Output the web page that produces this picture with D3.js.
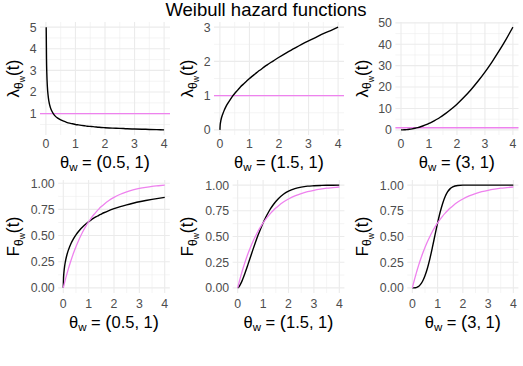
<!DOCTYPE html>
<html>
<head>
<meta charset="utf-8">
<script src="https://cdn.jsdelivr.net/npm/d3@7"></script>
<style>
  body { margin: 0; background: #fff; }
  text { font-family: "Liberation Sans", Arial, sans-serif; }
</style>
</head>
<body>
<script>
// time grid shared by every curve
var tGrid = [0, 0.01, 0.02, 0.03, 0.05, 0.075, 0.1, 0.15, 0.2, 0.25, 0.3, 0.4, 0.5, 0.6, 0.7, 0.8, 0.9,
             1.0, 1.1, 1.2, 1.3, 1.4, 1.5, 1.6, 1.8, 2.0, 2.25, 2.5, 2.75, 3.0, 3.25, 3.5, 3.75, 4.0]

// hazard, shapes 0.5 / 1.5 / 3 (scale 1)
var hazard05 = [null, 5.00, 3.54, 2.89, 2.24, 1.83, 1.58, 1.29, 1.12, 1.00, 0.91, 0.79, 0.71, 0.65, 0.60, 0.56, 0.53,
                0.50, 0.48, 0.46, 0.44, 0.42, 0.41, 0.40, 0.37, 0.35, 0.33, 0.32, 0.30, 0.29, 0.28, 0.27, 0.26, 0.25]
var hazard15 = [0, 0.15, 0.21, 0.26, 0.34, 0.41, 0.47, 0.58, 0.67, 0.75, 0.82, 0.95, 1.06, 1.16, 1.26, 1.34, 1.42,
                1.50, 1.57, 1.64, 1.71, 1.77, 1.84, 1.90, 2.01, 2.12, 2.25, 2.37, 2.49, 2.60, 2.70, 2.81, 2.90, 3.00]
var hazard3 = [0, 0.0003, 0.0012, 0.0027, 0.0075, 0.017, 0.03, 0.0675, 0.12, 0.19, 0.27, 0.48, 0.75, 1.08, 1.47, 1.92, 2.43,
               3.00, 3.63, 4.32, 5.07, 5.88, 6.75, 7.68, 9.72, 12.0, 15.19, 18.75, 22.69, 27.0, 31.69, 36.75, 42.19, 48.0]
var hazardExp = [1]

// distribution functions
var cdf05 = [0, 0.095, 0.132, 0.159, 0.200, 0.240, 0.271, 0.321, 0.361, 0.393, 0.422, 0.469, 0.507, 0.539, 0.567, 0.591, 0.613,
             0.632, 0.650, 0.666, 0.680, 0.694, 0.706, 0.718, 0.739, 0.757, 0.777, 0.794, 0.809, 0.823, 0.835, 0.846, 0.856, 0.865]
var cdf15 = [0, 0.001, 0.003, 0.005, 0.011, 0.020, 0.031, 0.056, 0.086, 0.118, 0.152, 0.224, 0.298, 0.372, 0.443, 0.511, 0.574,
             0.632, 0.685, 0.731, 0.773, 0.809, 0.841, 0.868, 0.911, 0.941, 0.966, 0.981, 0.990, 0.994, 0.997, 0.999, 0.999, 1.000]
var cdf3 = [0, 0, 0, 0, 0, 0, 0.001, 0.003, 0.008, 0.015, 0.027, 0.062, 0.118, 0.194, 0.290, 0.401, 0.518,
            0.632, 0.736, 0.822, 0.889, 0.936, 0.966, 0.983, 0.997, 1.000, 1.000, 1.000, 1.000, 1.000, 1.000, 1.000, 1.000, 1.000]
var cdfExp = [0, 0.010, 0.020, 0.030, 0.049, 0.072, 0.095, 0.139, 0.181, 0.221, 0.259, 0.330, 0.393, 0.451, 0.503, 0.551, 0.593,
              0.632, 0.667, 0.699, 0.727, 0.753, 0.777, 0.798, 0.835, 0.865, 0.895, 0.918, 0.936, 0.950, 0.961, 0.970, 0.976, 0.982]

var shapeLabels = ["0.5, 1", "1.5, 1", "3, 1"]
var xTicks = [0, 1, 2, 3, 4]
var hazardTicks = [[1, 2, 3, 4, 5], [0, 1, 2, 3], [0, 10, 20, 30, 40, 50]]
var cdfTicks = [0, 0.25, 0.5, 0.75, 1]

var W = 523, H = 366
var cellW = W / 3
var gridCol = "#ebebeb"
var weibullCol = "#000000"
var expCol = "#ee82ee"

var svg = d3.select("body").append("svg")
            .attr("width", W)
            .attr("height", H)

svg.append("rect").attr("width", W).attr("height", H).attr("fill", "#fff")

svg.append("text")
   .attr("x", 266)
   .attr("y", 16)
   .attr("text-anchor", "middle")
   .attr("font-size", 18.5)
   .attr("fill", "#000")
   .text("Weibull hazard functions")

// panel boxes, by row then column
var rows = [
  { top: 22, bottom: 135, tickY: 148, titleY: 168, lefts: [40, 214, 395.4], rights: [170, 344, 518.5] },
  { top: 180, bottom: 293, tickY: 307.5, titleY: 327.5, lefts: [58.2, 232.6, 407.3], rights: [169.8, 344.4, 518.4] }
]

var panels = []
;[hazard05, hazard15, hazard3].forEach(function(vals, i) {
  panels.push({ row: 0, col: i, main: vals, ref: null, refLevel: hazardExp[0],
                ticks: hazardTicks[i], fmt: d3.format("d"), sym: "λ" })
})
;[cdf05, cdf15, cdf3].forEach(function(vals, i) {
  panels.push({ row: 1, col: i, main: vals, ref: cdfExp, refLevel: null,
                ticks: cdfTicks, fmt: d3.format(".2f"), sym: "F" })
})

function expand(ext, mult) {
  var d = ext[1] - ext[0]
  return [ext[0] - d * mult, ext[1] + d * mult]
}

function minorBreaks(major, dom) {
  var step = major[1] - major[0]
  var out = []
  for (var i = -1; i < major.length; i++) {
    var v = (i < 0 ? major[0] - step : major[i]) + step / 2
    if (v >= dom[0] && v <= dom[1]) out.push(v)
  }
  return out
}

panels.forEach(function(p) {
  var r = rows[p.row]
  var left = r.lefts[p.col], right = r.rights[p.col]
  var cellLeft = p.col * cellW

  var allY = p.main.filter(function(v) { return v !== null })
  if (p.ref) allY = allY.concat(p.ref)
  if (p.refLevel !== null) allY.push(p.refLevel)

  var x = d3.scaleLinear().domain(expand([0, 4], 0.05)).range([left, right])
  var y = d3.scaleLinear().domain(expand(d3.extent(allY), 0.05)).range([r.bottom, r.top])

  var g = svg.append("g")

  // grid
  var xMinor = minorBreaks(xTicks, x.domain())
  var yMinor = minorBreaks(p.ticks, y.domain())
  g.selectAll(".xmin").data(xMinor).enter().append("line")
   .attr("x1", x).attr("x2", x).attr("y1", r.top).attr("y2", r.bottom)
   .attr("stroke", gridCol).attr("stroke-width", 0.55)
  g.selectAll(".ymin").data(yMinor).enter().append("line")
   .attr("x1", left).attr("x2", right).attr("y1", y).attr("y2", y)
   .attr("stroke", gridCol).attr("stroke-width", 0.55)
  g.selectAll(".xmaj").data(xTicks).enter().append("line")
   .attr("x1", x).attr("x2", x).attr("y1", r.top).attr("y2", r.bottom)
   .attr("stroke", gridCol).attr("stroke-width", 1.1)
  g.selectAll(".ymaj").data(p.ticks).enter().append("line")
   .attr("x1", left).attr("x2", right).attr("y1", y).attr("y2", y)
   .attr("stroke", gridCol).attr("stroke-width", 1.1)

  // reference (exponential) curve
  var line = d3.line()
               .defined(function(d) { return d[1] !== null })
               .x(function(d) { return x(d[0]) })
               .y(function(d) { return y(d[1]) })
               .curve(d3.curveMonotoneX)

  if (p.refLevel !== null) {
    g.append("line")
     .attr("x1", left).attr("x2", right)
     .attr("y1", y(p.refLevel)).attr("y2", y(p.refLevel))
     .attr("stroke", expCol).attr("stroke-width", 1.4)
  }

  g.append("path")
   .datum(tGrid.map(function(t, i) { return [t, p.main[i]] }))
   .attr("fill", "none").attr("stroke", weibullCol).attr("stroke-width", 1.4)
   .attr("d", line)

  if (p.ref) {
    g.append("path")
     .datum(tGrid.map(function(t, i) { return [t, p.ref[i]] }))
     .attr("fill", "none").attr("stroke", expCol).attr("stroke-width", 1.3)
     .attr("d", line)
  }

  // tick labels
  g.selectAll(".xt").data(xTicks).enter().append("text")
   .attr("x", x).attr("y", r.tickY)
   .attr("text-anchor", "middle").attr("font-size", 12.3).attr("fill", "#4d4d4d")
   .text(function(d) { return d })
  g.selectAll(".yt").data(p.ticks).enter().append("text")
   .attr("x", left - 3.5).attr("y", y).attr("dy", "0.36em")
   .attr("text-anchor", "end").attr("font-size", 12.3).attr("fill", "#4d4d4d")
   .text(p.fmt)

  // x title: theta_w = (shape, scale)
  var xt = g.append("text")
            .attr("x", (left + right) / 2).attr("y", r.titleY)
            .attr("text-anchor", "middle").attr("fill", "#000")
  xt.append("tspan").attr("font-size", 16.5).text("θ")
  xt.append("tspan").attr("font-size", 11.5).attr("dy", 3).text("w")
  xt.append("tspan").attr("font-size", 16.5).attr("dy", -3).text(" = ")
  xt.append("tspan").attr("font-size", 18.5).text("(")
  xt.append("tspan").attr("font-size", 16.5).text(shapeLabels[p.col])
  xt.append("tspan").attr("font-size", 18.5).text(")")

  // y title: lambda/F with subscript theta_w, then (t)
  var yx = cellLeft + 19, yy = (r.top + r.bottom) / 2
  var yt = g.append("text")
            .attr("transform", "translate(" + yx + "," + yy + ") rotate(-90)")
            .attr("text-anchor", "middle").attr("fill", "#000")
  yt.append("tspan").attr("font-size", 17).text(p.sym)
  yt.append("tspan").attr("font-size", 12).attr("dy", 3.5).text("θ")
  yt.append("tspan").attr("font-size", 8.5).attr("dy", 2.5).text("w")
  yt.append("tspan").attr("font-size", 17.5).attr("dy", -6).text("(t)")
})
</script>
</body>
</html>
